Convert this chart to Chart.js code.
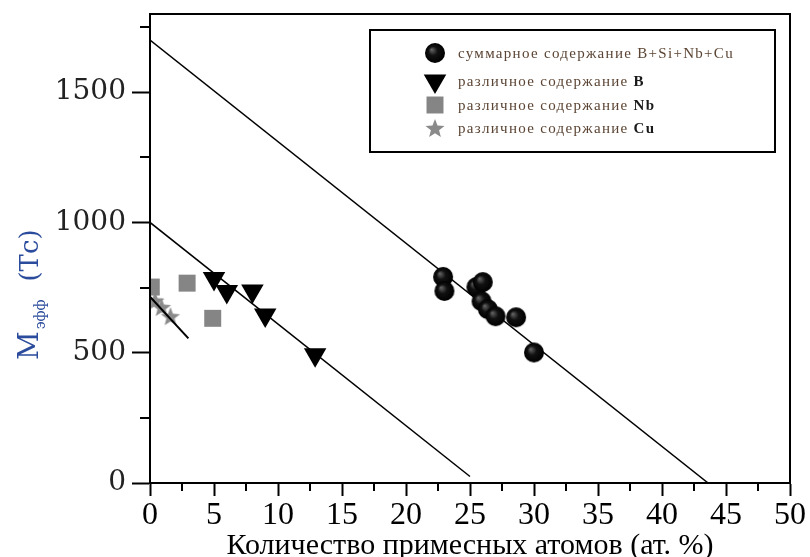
<!DOCTYPE html>
<html lang="ru">
<head>
<meta charset="UTF-8">
<title>Мэфф от количества примесных атомов</title>
<script src="https://cdn.jsdelivr.net/npm/chart.js@4/dist/chart.umd.min.js"></script>
<style>
  body { margin: 0; background: #fff; }
</style>
</head>
<body>
<canvas id="mChart" width="810" height="557"></canvas>
<script>
// суммарное содержание B+Si+Nb+Cu
const sumX = [22.9, 23.0, 25.5, 26.0, 25.9, 26.4, 27.0, 28.6, 30.0];
const sumY = [791, 737, 752, 771, 698, 667, 640, 636, 501];
// различное содержание B
const borX = [5.0, 6.0, 8.0, 9.0, 12.9];
const borY = [785, 735, 737, 645, 492];
// различное содержание Nb
const nbX = [0.1, 2.9, 4.9];
const nbY = [752, 767, 632];
// различное содержание Cu
const cuX = [0.4, 0.9, 1.6];
const cuY = [700, 675, 640];

// прямые
const fitSumX = [0, 43.6], fitSumY = [1700, 0];
const fitBX = [0, 25], fitBY = [1000, 25];
const fitCuX = [0, 3], fitCuY = [715, 555];

const xMajor = [0, 5, 10, 15, 20, 25, 30, 35, 40, 45, 50];
const xMinor = [2.5, 7.5, 12.5, 17.5, 22.5, 27.5, 32.5, 37.5, 42.5, 47.5];
const yMajor = [0, 500, 1000, 1500];
const yMinor = [250, 750, 1250, 1750];

const pts = (xs, ys) => xs.map((x, i) => ({ x: x, y: ys[i] }));

// маркеры: шарик и звёздочка
function ballImage(r) {
  const c = document.createElement('canvas');
  c.width = c.height = 2 * r + 2;
  const g = c.getContext('2d');
  const cx = r + 1;
  const grad = g.createRadialGradient(cx - r * 0.35, cx - r * 0.35, 0, cx, cx, r);
  grad.addColorStop(0, '#6a6a6a');
  grad.addColorStop(0.45, '#111');
  grad.addColorStop(1, '#000');
  g.fillStyle = grad;
  g.beginPath();
  g.arc(cx, cx, r, 0, Math.PI * 2);
  g.fill();
  return c;
}
function starImage(R, r, color) {
  const c = document.createElement('canvas');
  c.width = c.height = 2 * R + 2;
  const g = c.getContext('2d');
  const cx = R + 1;
  g.fillStyle = color;
  g.beginPath();
  for (let i = 0; i < 10; i++) {
    const rad = i % 2 ? r : R;
    const a = -Math.PI / 2 + i * Math.PI / 5;
    g.lineTo(cx + rad * Math.cos(a), cx + 1 + rad * Math.sin(a));
  }
  g.closePath();
  g.fill();
  return c;
}
const ball = ballImage(10);
const star = starImage(10, 4.3, '#8a8a8a');

const minorTicks = {
  id: 'minorTicks',
  afterDraw(chart) {
    const { ctx, scales: { x, y }, chartArea: a } = chart;
    ctx.save();
    ctx.strokeStyle = '#000';
    ctx.lineWidth = 2;
    ctx.beginPath();
    xMinor.forEach(v => {
      const px = Math.round(x.getPixelForValue(v));
      ctx.moveTo(px, a.bottom);
      ctx.lineTo(px, a.bottom + 8);
    });
    yMinor.forEach(v => {
      const py = Math.round(y.getPixelForValue(v));
      ctx.moveTo(a.left, py);
      ctx.lineTo(a.left - 10, py);
    });
    ctx.stroke();
    // рамка
    ctx.strokeRect(a.left, a.top, a.right - a.left, a.bottom - a.top);
    ctx.restore();
  }
};

const yTitle = {
  id: 'yTitle',
  afterDraw(chart) {
    const ctx = chart.ctx;
    ctx.save();
    ctx.translate(38, 360);
    ctx.rotate(-Math.PI / 2);
    ctx.fillStyle = '#2b4c9c';
    ctx.textBaseline = 'alphabetic';
    ctx.font = '28px "DejaVu Serif"';
    ctx.fillText('M', 0, 0);
    let w = ctx.measureText('M').width + 2;
    ctx.font = '14px "DejaVu Serif"';
    ctx.fillText('эфф', w, 7);
    w += ctx.measureText('эфф').width + 18;
    ctx.font = '26px "DejaVu Serif"';
    ctx.fillText('(Тс)', w, 0);
    ctx.restore();
  }
};

const boxLegend = {
  id: 'boxLegend',
  afterDraw(chart) {
    const ctx = chart.ctx;
    const left = 370, top = 30, width = 405, height = 122;
    const rows = [53, 81, 105, 128];
    ctx.save();
    ctx.fillStyle = '#fff';
    ctx.fillRect(left, top, width, height);
    ctx.strokeStyle = '#000';
    ctx.lineWidth = 2;
    ctx.strokeRect(left, top, width, height);
    const items = chart.data.datasets.filter(d => d.label);
    items.forEach((d, i) => {
      const yy = rows[i];
      ctx.fillStyle = d.backgroundColor;
      Chart.helpers.drawPoint(ctx, {
        pointStyle: d.pointStyle,
        rotation: d.rotation || 0,
        radius: d.pointRadius,
        borderWidth: 0
      }, 435, yy);
      const cut = d.label.lastIndexOf(' ');
      const head = i === 0 ? d.label : d.label.slice(0, cut + 1);
      const tail = i === 0 ? '' : d.label.slice(cut + 1);
      ctx.textBaseline = 'middle';
      ctx.letterSpacing = '1.3px';
      ctx.font = '15px "Liberation Serif"';
      ctx.fillStyle = '#5b4433';
      ctx.fillText(head, 458, yy + 1);
      const hw = ctx.measureText(head).width;
      ctx.font = 'bold 15px "Liberation Serif"';
      ctx.fillStyle = '#1a1a1a';
      ctx.fillText(tail, 458 + hw, yy + 1);
    });
    ctx.restore();
  }
};

const axisStyle = (tickLen) => ({
  display: true,
  drawOnChartArea: false,
  drawTicks: true,
  tickLength: tickLen,
  tickWidth: 2,
  tickColor: '#000',
  color: '#000'
});

new Chart(document.getElementById('mChart'), {
  type: 'scatter',
  data: {
    datasets: [
      { data: pts(fitSumX, fitSumY), showLine: true, borderColor: '#000', borderWidth: 1.5,
        pointRadius: 0, order: 3 },
      { data: pts(fitBX, fitBY), showLine: true, borderColor: '#000', borderWidth: 1.5,
        pointRadius: 0, order: 3 },
      { label: 'суммарное содержание B+Si+Nb+Cu', data: pts(sumX, sumY),
        pointStyle: ball, pointRadius: 10, backgroundColor: '#000', order: 2 },
      { label: 'различное содержание B', data: pts(borX, borY),
        pointStyle: 'triangle', rotation: 180, pointRadius: 13, pointBorderWidth: 0,
        backgroundColor: '#000', borderColor: '#000', order: 2 },
      { label: 'различное содержание Nb', data: pts(nbX, nbY),
        pointStyle: 'rect', pointRadius: 12, pointBorderWidth: 0,
        backgroundColor: '#858585', borderColor: '#858585', order: 2 },
      { label: 'различное содержание Cu', data: pts(cuX, cuY),
        pointStyle: star, pointRadius: 10, backgroundColor: '#8a8a8a', order: 2 },
      { data: pts(fitCuX, fitCuY), showLine: true, borderColor: '#000', borderWidth: 2,
        pointRadius: 0, order: 1 }
    ]
  },
  options: {
    responsive: false,
    animation: false,
    layout: { padding: { left: 0, top: 14, right: 20, bottom: 0 } },
    plugins: { legend: { display: false }, tooltip: { enabled: false } },
    scales: {
      x: {
        type: 'linear',
        min: 0,
        max: 50,
        afterBuildTicks: s => { s.ticks = xMajor.map(v => ({ value: v })); },
        afterFit: s => { s.height = 74; s.paddingLeft = 0; s.paddingRight = 0; },
        border: { display: true, color: '#000', width: 2 },
        grid: axisStyle(13),
        ticks: {
          color: '#000',
          padding: 0,
          maxRotation: 0,
          autoSkip: false,
          callback: v => String(v),
          font: { family: '"Liberation Serif"', size: 32 }
        },
        title: {
          display: true,
          text: 'Количество примесных атомов (ат. %)',
          color: '#000',
          font: { family: '"Liberation Serif"', size: 30, lineHeight: 1 },
          padding: { top: 0, bottom: -4 }
        }
      },
      y: {
        type: 'linear',
        min: 0,
        max: 1800,
        afterBuildTicks: s => { s.ticks = yMajor.map(v => ({ value: v })); },
        afterFit: s => { s.width = 150; s.paddingTop = 0; s.paddingBottom = 0; },
        border: { display: true, color: '#000', width: 2 },
        grid: axisStyle(18),
        ticks: {
          color: '#222',
          padding: 6,
          autoSkip: false,
          callback: v => String(v),
          font: { family: '"DejaVu Serif"', size: 28 }
        }
      }
    }
  },
  plugins: [minorTicks, yTitle, boxLegend]
});
</script>
</body>
</html>
